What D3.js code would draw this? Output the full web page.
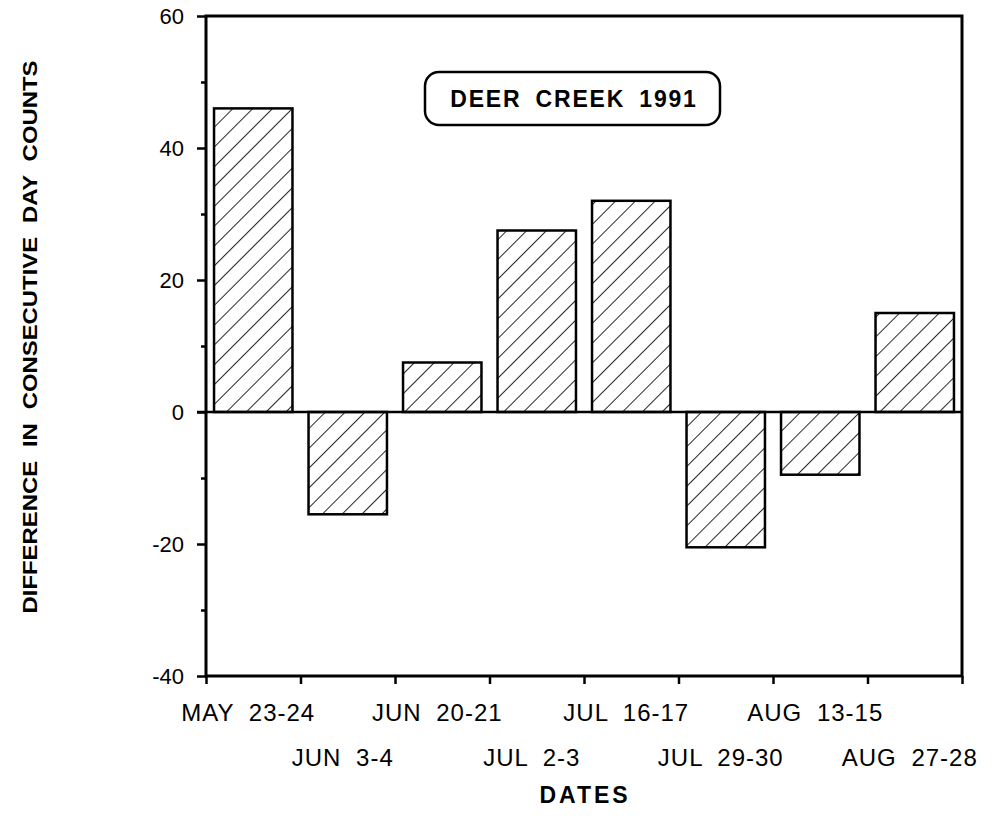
<!DOCTYPE html>
<html>
<head>
<meta charset="utf-8">
<script src="https://cdn.jsdelivr.net/npm/d3@7"></script>
<style>
body { margin: 0; background: #fff; }
text { font-family: "Liberation Sans", Arial, sans-serif; fill: #000; }
</style>
</head>
<body>
<svg id="chart"></svg>
<script>
var width = 995, height = 824;
var margin = { top: 16, right: 33, bottom: 148, left: 206 };
var plotW = width - margin.left - margin.right;
var plotH = height - margin.top - margin.bottom;

// data
var dates = ["MAY 23-24", "JUN 3-4", "JUN 20-21", "JUL 2-3", "JUL 16-17", "JUL 29-30", "AUG 13-15", "AUG 27-28"];
var diffs = [46, -15.5, 7.5, 27.5, 32, -20.5, -9.5, 15];
var yTicks = [-40, -20, 0, 20, 40, 60];
var yMinor = [-30, -10, 10, 30, 50];

var svg = d3.select("#chart")
    .attr("width", width)
    .attr("height", height);

var defs = svg.append("defs");
var pat = defs.append("pattern")
    .attr("id", "hatch")
    .attr("patternUnits", "userSpaceOnUse")
    .attr("width", 14)
    .attr("height", 14)
    .attr("patternTransform", "rotate(45)");
pat.append("line")
    .attr("x1", 0).attr("y1", 0)
    .attr("x2", 0).attr("y2", 14)
    .attr("stroke", "#000")
    .attr("stroke-width", 1.7);

var g = svg.append("g")
    .attr("transform", "translate(" + margin.left + "," + margin.top + ")");

var x = d3.scaleBand().domain(dates).range([0, plotW]).paddingInner(0.17).paddingOuter(0.085);
var xEdges = d3.scaleLinear().domain([0, dates.length]).range([0, plotW]);
var y = d3.scaleLinear().domain([-40, 60]).range([plotH, 0]);

// bars
g.selectAll(".bar")
    .data(diffs)
    .enter().append("rect")
    .attr("class", "bar")
    .attr("x", function(d, i) { return x(dates[i]); })
    .attr("width", x.bandwidth())
    .attr("y", function(d) { return y(Math.max(0, d)); })
    .attr("height", function(d) { return Math.abs(y(d) - y(0)); })
    .attr("fill", "url(#hatch)")
    .attr("stroke", "#000")
    .attr("stroke-width", 2.5);

// zero line
g.append("line")
    .attr("x1", -9).attr("x2", plotW)
    .attr("y1", y(0)).attr("y2", y(0))
    .attr("stroke", "#000").attr("stroke-width", 2.5);

// frame
g.append("rect")
    .attr("x", 0).attr("y", 0)
    .attr("width", plotW).attr("height", plotH)
    .attr("fill", "none")
    .attr("stroke", "#000")
    .attr("stroke-width", 3);

// y axis
var yAxis = d3.axisLeft(y).tickValues(yTicks).tickSize(9).tickPadding(13).tickFormat(function(d) { return String(d); });
var gy = g.append("g").attr("class", "y axis").call(yAxis);
gy.select(".domain").remove();
gy.selectAll("line").attr("stroke-width", 2.5);
gy.selectAll("text").style("font-size", "22px").attr("dy", "0.36em");

var gyMinor = g.append("g").call(d3.axisLeft(y).tickValues(yMinor).tickSize(5).tickFormat(""));
gyMinor.select(".domain").remove();
gyMinor.selectAll("line").attr("stroke-width", 2.5);

// x axis: ticks at band edges
var xAxis = d3.axisBottom(xEdges).ticks(dates.length).tickSize(8).tickFormat("");
var gx = g.append("g").attr("transform", "translate(0," + plotH + ")").call(xAxis);
gx.select(".domain").remove();
gx.selectAll("line").attr("stroke-width", 2.5);

// x labels, alternating rows
g.selectAll(".xlab")
    .data(dates)
    .enter().append("text")
    .attr("class", "xlab")
    .attr("x", function(d) { return x(d) + x.bandwidth() / 2 - 5; })
    .attr("y", function(d, i) { return plotH + (i % 2 === 0 ? 45 : 90); })
    .attr("text-anchor", "middle")
    .style("font-size", "24px")
    .style("letter-spacing", "1px")
    .style("word-spacing", "7px")
    .text(function(d) { return d; });

// axis titles
svg.append("text")
    .attr("x", 585)
    .attr("y", 803)
    .attr("text-anchor", "middle")
    .style("font-size", "23px")
    .style("font-weight", "bold")
    .style("letter-spacing", "3px")
    .text("DATES");

svg.append("text")
    .attr("transform", "translate(37,337) rotate(-90)")
    .attr("text-anchor", "middle")
    .attr("textLength", 553)
    .attr("lengthAdjust", "spacingAndGlyphs")
    .style("font-size", "20px")
    .style("font-weight", "bold")
    .style("word-spacing", "6px")
    .text("DIFFERENCE IN CONSECUTIVE DAY COUNTS");

// title box
var tb = svg.append("g").attr("transform", "translate(425,72)");
tb.append("rect")
    .attr("width", 295).attr("height", 53)
    .attr("rx", 14).attr("ry", 14)
    .attr("fill", "#fff")
    .attr("stroke", "#000")
    .attr("stroke-width", 2.5);
tb.append("text")
    .attr("x", 149).attr("y", 35)
    .attr("text-anchor", "middle")
    .style("font-size", "23px")
    .style("font-weight", "bold")
    .style("letter-spacing", "1.8px")
    .style("word-spacing", "6px")
    .text("DEER CREEK 1991");
</script>
</body>
</html>
